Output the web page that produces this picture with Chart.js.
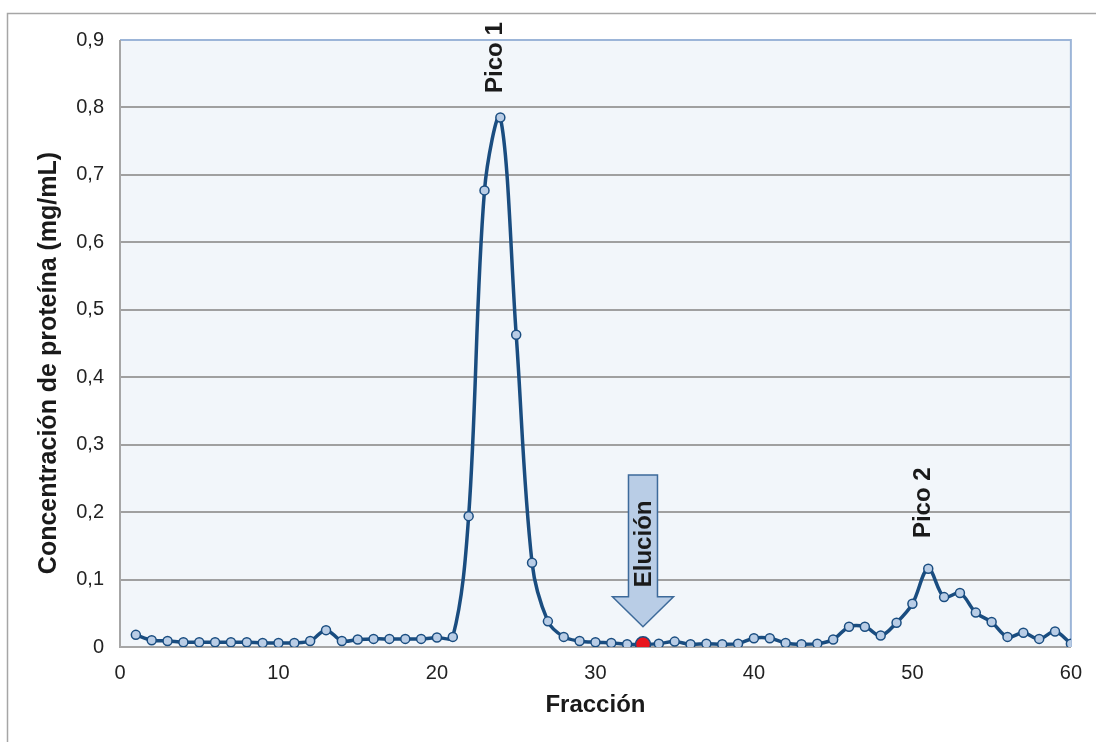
<!DOCTYPE html>
<html lang="es">
  <head>
    <meta charset="UTF-8" />
    <title>Cromatografía - concentración de proteína por fracción</title>
    <style>
      html, body { margin: 0; padding: 0; background: #ffffff; }
      #wrap { width: 1096px; height: 742px; position: relative; }
    </style>
  </head>
  <body>
    <div id="wrap"><canvas id="myChart" width="1096" height="742"></canvas></div>

    <script src="https://cdn.jsdelivr.net/npm/chart.js"></script>
    <script>
      // Fracciones recogidas de la columna
      const fracciones = [
        1, 2, 3, 4, 5, 6, 7, 8, 9, 10, 11, 12, 13, 14, 15, 16, 17, 18, 19, 20,
        21, 22, 23, 24, 25, 26, 27, 28, 29, 30, 31, 32, 33, 34, 35, 36, 37, 38, 39, 40,
        41, 42, 43, 44, 45, 46, 47, 48, 49, 50, 51, 52, 53, 54, 55, 56, 57, 58, 59, 60
      ];
      // Concentración de proteína (mg/mL) en cada fracción
      const concentracion = [
        0.018, 0.010, 0.009, 0.007, 0.007, 0.007, 0.007, 0.007, 0.006, 0.006,
        0.006, 0.009, 0.025, 0.009, 0.011, 0.012, 0.012, 0.012, 0.012, 0.014,
        0.015, 0.194, 0.677, 0.785, 0.463, 0.125, 0.038, 0.015, 0.009, 0.007,
        0.006, 0.004, 0.004, 0.005, 0.008, 0.004, 0.005, 0.004, 0.005, 0.013,
        0.013, 0.006, 0.004, 0.005, 0.011, 0.030, 0.030, 0.017, 0.036, 0.064,
        0.116, 0.074, 0.080, 0.051, 0.037, 0.015, 0.021, 0.012, 0.023, 0.005
      ];
      const xTicks = [0, 10, 20, 30, 40, 50, 60];
      const yTicks = [0, 0.1, 0.2, 0.3, 0.4, 0.5, 0.6, 0.7, 0.8, 0.9];

      // Marcas de texto sobre los picos
      const picoTextos = ["Pico 1", "Pico 2"];
      const picoFracciones = [24, 51];

      // Inicio de la elución (flecha)
      const elucionTexto = "Elución";
      const elucionFraccion = 33;
      const flechaDesde = 0.255;
      const flechaHasta = 0.03;
      const flechaBase = 0.0745;

      const tituloY = "Concentración de proteína (mg/mL)";

      const azul = "#1a4d80";
      const azulClaro = "#b9cde6";
      const fuente = "'Liberation Sans', Arial, sans-serif";

      const puntos = fracciones.map((f, i) => ({ x: f, y: concentracion[i] }));
      const esElucion = fracciones.map((f) => f === elucionFraccion);

      // Marco exterior, fondo del área, flecha y textos
      const marcoPlugin = {
        id: "marco",
        beforeDraw(chart) {
          const { ctx, chartArea: a } = chart;
          ctx.save();
          ctx.fillStyle = "#f2f6fa";
          ctx.fillRect(a.left, a.top, a.right - a.left, a.bottom - a.top);
          ctx.strokeStyle = "#a6a6a6";
          ctx.lineWidth = 1.5;
          ctx.beginPath();
          ctx.moveTo(7.5, chart.height);
          ctx.lineTo(7.5, 13.5);
          ctx.lineTo(chart.width, 13.5);
          ctx.stroke();

          // título del eje Y
          ctx.fillStyle = "#1a1a1a";
          ctx.font = "bold 25px " + fuente;
          ctx.textAlign = "center";
          ctx.textBaseline = "middle";
          ctx.translate(49, 363);
          ctx.rotate(-Math.PI / 2);
          ctx.fillText(tituloY, 0, 0);
          ctx.restore();
        },
        beforeDatasetsDraw(chart) {
          const { ctx, chartArea: a } = chart;
          ctx.save();
          ctx.lineWidth = 2;
          ctx.strokeStyle = "#9cb5d8";
          ctx.beginPath();
          ctx.moveTo(a.left, a.top);
          ctx.lineTo(a.right, a.top);
          ctx.lineTo(a.right, a.bottom);
          ctx.stroke();
          ctx.strokeStyle = "#a6a6a6";
          ctx.beginPath();
          ctx.moveTo(a.left, a.top);
          ctx.lineTo(a.left, a.bottom);
          ctx.lineTo(a.right, a.bottom);
          ctx.stroke();

          // flecha de elución
          const xs = chart.scales.x;
          const ys = chart.scales.y;
          const cx = xs.getPixelForValue(elucionFraccion);
          const yTop = ys.getPixelForValue(flechaDesde);
          const yBase = ys.getPixelForValue(flechaBase);
          const yTip = ys.getPixelForValue(flechaHasta);
          const cuerpo = 14.5;
          const cabeza = 30.5;
          ctx.beginPath();
          ctx.moveTo(cx - cuerpo, yTop);
          ctx.lineTo(cx + cuerpo, yTop);
          ctx.lineTo(cx + cuerpo, yBase);
          ctx.lineTo(cx + cabeza, yBase);
          ctx.lineTo(cx, yTip);
          ctx.lineTo(cx - cabeza, yBase);
          ctx.lineTo(cx - cuerpo, yBase);
          ctx.closePath();
          ctx.fillStyle = azulClaro;
          ctx.fill();
          ctx.strokeStyle = "#3d6a9a";
          ctx.lineWidth = 1.5;
          ctx.stroke();

          ctx.fillStyle = "#1a1a1a";
          ctx.font = "bold 24px " + fuente;
          ctx.textAlign = "center";
          ctx.textBaseline = "middle";
          ctx.translate(cx + 1, (yTop + yBase) / 2 + 8);
          ctx.rotate(-Math.PI / 2);
          ctx.fillText(elucionTexto, 0, 0);
          ctx.restore();
        },
        afterDatasetsDraw(chart) {
          const { ctx } = chart;
          const xs = chart.scales.x;
          const ys = chart.scales.y;
          const subida = [60, 66];
          ctx.save();
          ctx.fillStyle = "#1a1a1a";
          ctx.font = "bold 24px " + fuente;
          ctx.textAlign = "center";
          ctx.textBaseline = "middle";
          picoTextos.forEach((t, i) => {
            const f = picoFracciones[i];
            const v = concentracion[fracciones.indexOf(f)];
            const px = xs.getPixelForValue(f) - 5;
            const py = ys.getPixelForValue(v) - subida[i];
            ctx.save();
            ctx.translate(px, py);
            ctx.rotate(-Math.PI / 2);
            ctx.fillText(t, 0, 0);
            ctx.restore();
          });
          ctx.restore();
        },
      };

      const ctx = document.getElementById("myChart").getContext("2d");
      new Chart(ctx, {
        type: "line",
        data: {
          datasets: [
            {
              label: "Concentración de proteína",
              data: puntos,
              borderColor: azul,
              borderWidth: 3.5,
              tension: 0.35,
              fill: false,
              pointRadius: esElucion.map((e) => (e ? 7.5 : 4.5)),
              pointBackgroundColor: esElucion.map((e) => (e ? "#e8141c" : azulClaro)),
              pointBorderColor: azul,
              pointBorderWidth: 1.5,
            },
          ],
        },
        options: {
          responsive: false,
          animation: false,
          layout: { padding: { top: 40, right: 25, left: 0, bottom: 0 } },
          plugins: { legend: { display: false }, tooltip: { enabled: false } },
          scales: {
            x: {
              type: "linear",
              min: 0,
              max: 60,
              afterBuildTicks: (s) => { s.ticks = xTicks.map((v) => ({ value: v })); },
              afterFit: (s) => { s.height = 95; },
              grid: { display: false, drawTicks: false },
              border: { display: false },
              ticks: {
                padding: 14,
                color: "#222",
                font: { family: fuente, size: 20 },
              },
              title: {
                display: true,
                text: "Fracción",
                color: "#1a1a1a",
                font: { family: fuente, size: 24, weight: "bold" },
                padding: { bottom: 22 },
              },
            },
            y: {
              min: 0,
              max: 0.9,
              afterBuildTicks: (s) => { s.ticks = yTicks.map((v) => ({ value: v })); },
              afterFit: (s) => { s.width = 120; },
              grid: { color: "#a0a0a0", lineWidth: 2, drawTicks: false },
              border: { display: false },
              ticks: {
                padding: 16,
                color: "#222",
                font: { family: fuente, size: 20 },
                callback: (v) => (v === 0 ? "0" : v.toFixed(1).replace(".", ",")),
              },
            },
          },
        },
        plugins: [marcoPlugin],
      });
    </script>
  </body>
</html>
